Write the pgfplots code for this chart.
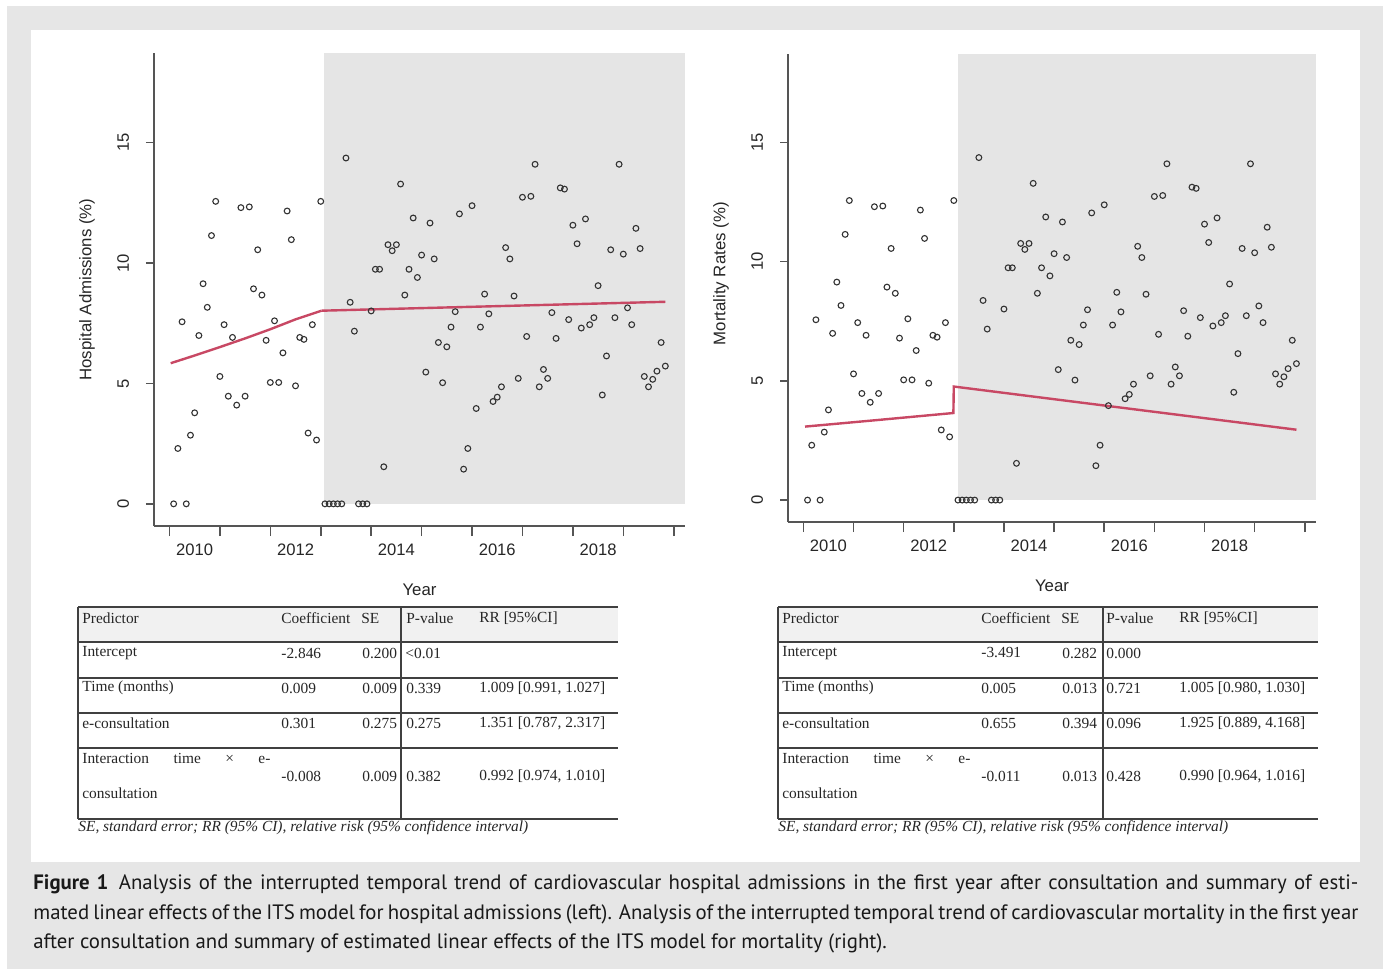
\documentclass[border=0pt]{standalone}
\usepackage{fontspec}
\setmainfont{Liberation Sans}
\newfontfamily\tabfont{Liberation Serif}
\newfontfamily\capfont{PT Sans}
\usepackage{pgfplots}
\pgfplotsset{compat=1.18}
\usepackage{pgfplotstable}

\definecolor{bgframe}{RGB}{230,230,230}
\definecolor{plotgray}{RGB}{229,229,229}
\definecolor{redline}{RGB}{200,72,100}
\definecolor{axisgray}{RGB}{85,85,85}
\definecolor{hdrgray}{RGB}{241,241,241}

\pgfplotstableread{
month value
1 0
2 2.30
3 7.56
4 0
5 2.85
6 3.78
7 6.99
8 9.14
9 8.16
10 11.14
11 12.56
12 5.29
13 7.44
14 4.47
15 6.91
16 4.10
17 12.30
18 4.47
19 12.33
20 8.93
21 10.55
22 8.67
23 6.79
24 5.04
25 7.60
26 5.04
27 6.27
28 12.16
29 10.97
30 4.90
31 6.91
32 6.83
33 2.94
34 7.44
35 2.65
36 12.56
37 0
38 0
39 0
40 0
41 0
42 14.36
43 8.37
44 7.17
45 0
46 0
47 0
48 8.01
49 9.74
50 9.74
51 1.54
52 10.76
53 10.51
54 10.76
55 13.28
56 8.67
57 9.74
58 11.87
59 9.40
60 10.33
61 5.47
62 11.66
63 10.17
64 6.70
65 5.03
66 6.52
67 7.34
68 7.98
69 12.04
70 1.44
71 2.30
72 12.38
73 3.96
74 7.34
75 8.71
76 7.89
77 4.25
78 4.43
79 4.86
80 10.64
81 10.17
82 8.63
83 5.21
84 12.73
85 6.95
86 12.77
87 14.10
88 4.86
89 5.58
90 5.21
91 7.94
92 6.87
93 13.12
94 13.07
95 7.65
96 11.57
97 10.80
98 7.30
99 11.83
100 7.44
101 7.73
102 9.06
103 4.52
104 6.14
105 10.55
106 7.73
107 14.10
108 10.37
109 8.14
110 7.44
111 11.44
112 10.60
113 5.29
114 4.86
115 5.17
116 5.51
117 6.70
118 5.72
}\rates

\newcommand{\lbfont}{\fontsize{8.4}{10}\selectfont}

\pgfplotsset{its/.style={
  scale only axis,
  xmin=-3.68, xmax=122.68, ymin=-0.92, ymax=18.72,
  axis x line*=bottom, axis y line*=left,
  axis line style={-, draw=axisgray, line width=0.8pt},
  tick align=outside,
  major tick length=4pt, minor tick length=5pt,
  tick style={draw=axisgray, line width=0.8pt},
  major x tick style={draw=none},
  xtick={6,30,54,78,102},
  xticklabels={2010,2012,2014,2016,2018},
  minor xtick={0,12,...,120},
  ytick={0,5,10,15},
  /pgf/number format/assume math mode=true,
  tick label style={font=\fontsize{8.3}{10}\selectfont, text=black!85},
  xticklabel style={anchor=center, yshift=-8pt},
  yticklabel style={xshift=-5pt, rotate=90, anchor=south},
  every axis x label/.style={at={(axis description cs:0.5,0)}, anchor=center, yshift=-32pt, font=\lbfont, text=black!85},
  every axis y label/.style={at={(axis description cs:0,0.5)}, xshift=-33.5pt, rotate=90, anchor=center, font=\lbfont, text=black!85},
  xlabel={\lbfont Year},
  clip=false,
}}

\newcommand{\tb}{\tabfont\fontsize{7.7}{9}\selectfont}

\newcommand{\tablegrid}[1]{%
  \fill[hdrgray] (78,607) rectangle (618,642);
  \foreach \yy in {607,642,678,713,748,819}
    \draw[line width=0.8pt, black!75] (78,\yy) -- (618,\yy);
  \draw[line width=0.8pt, black!75] (78,607) -- (78,819);
  \draw[line width=0.8pt, black!75] (#1,607) -- (#1,819);
  \begin{scope}[every node/.style={anchor=west, inner sep=0pt, font=\tb, text=black!85}]
  \node at (82,618) {Predictor};
  \node at (281,618) {Coefficient};
  \node at (361,618) {SE};
  \node at (406,618) {P-value};
  \node at (479,618) {RR [95\%CI]};
  \node at (82,653) {Intercept};
  \node at (82,688) {Time (months)};
  \node at (82,723) {e-consultation};
  \node at (82,758) {\hbox to 94pt{Interaction\hfill time\hfill ×\hfill e-}};
  \node at (82,793) {consultation};
  \node at (78,828) {\itshape SE, standard error; RR (95\% CI), relative risk (95\% confidence interval)};
  \end{scope}
}

\begin{document}
\begin{tikzpicture}[x=0.5pt, y=-0.5pt]
\fill[white] (0,0) rectangle (1389,975);
\fill[bgframe] (7,6) rectangle (1383,969);
\fill[white] (31,30) rectangle (1360,862);

% ---------- left plot ----------
\begin{axis}[its, at={(77pt,-263pt)}, anchor=south west,
  width=265.5pt, height=236.5pt,
  ylabel={\lbfont Hospital Admissions (\%)}]
\addplot[fill=plotgray, draw=none] coordinates {(36.8,0) (36.8,18.72) (122.68,18.72) (122.68,0)};
\addplot[only marks, mark=o, mark size=1.45pt, mark options={draw=black!80, line width=0.55pt}] table[x=month, y=value] {\rates};
\addplot[redline, line width=1.2pt] coordinates {(0.3,5.84) (6,6.16) (12,6.51) (18,6.87) (24,7.25) (30,7.66) (36.2,8.02)};
\addplot[redline, line width=1.2pt] coordinates {(36.2,8.02) (118,8.39)};
\end{axis}

% ---------- right plot ----------
\begin{axis}[its, at={(394pt,-261pt)}, anchor=south west,
  width=264pt, height=234.2pt,
  ylabel={\lbfont Mortality Rates (\%)},
  every axis y label/.append style={at={(axis description cs:0,0.53)}}]
\addplot[fill=plotgray, draw=none] coordinates {(36.9,0) (36.9,18.72) (122.68,18.72) (122.68,0)};
\addplot[only marks, mark=o, mark size=1.45pt, mark options={draw=black!80, line width=0.55pt}] table[x=month, y=value] {\rates};
\addplot[redline, line width=1.2pt] coordinates {(0.4,3.08) (18,3.36) (35.9,3.65) (36.0,4.76) (73.1,3.94) (118,2.95)};
\end{axis}

% ---------- left table ----------
\tablegrid{401}
\begin{scope}[every node/.style={anchor=west, inner sep=0pt, font=\tb, text=black!85}]
\node at (281,653) {-2.846};
\node at (362,653) {0.200};
\node at (405,653) {<0.01};
\node at (281,688) {0.009};
\node at (362,688) {0.009};
\node at (406,688) {0.339};
\node at (479,688) {1.009 [0.991, 1.027]};
\node at (281,723) {0.301};
\node at (362,723) {0.275};
\node at (406,723) {0.275};
\node at (479,723) {1.351 [0.787, 2.317]};
\node at (281,776) {-0.008};
\node at (362,776) {0.009};
\node at (406,776) {0.382};
\node at (479,776) {0.992 [0.974, 1.010]};
\end{scope}

% ---------- right table ----------
\begin{scope}[xshift=350pt]
\tablegrid{403}
\begin{scope}[every node/.style={anchor=west, inner sep=0pt, font=\tb, text=black!85}]
\node at (281,653) {-3.491};
\node at (362,653) {0.282};
\node at (406,653) {0.000};
\node at (281,688) {0.005};
\node at (362,688) {0.013};
\node at (406,688) {0.721};
\node at (479,688) {1.005 [0.980, 1.030]};
\node at (281,723) {0.655};
\node at (362,723) {0.394};
\node at (406,723) {0.096};
\node at (479,723) {1.925 [0.889, 4.168]};
\node at (281,776) {-0.011};
\node at (362,776) {0.013};
\node at (406,776) {0.428};
\node at (479,776) {0.990 [0.964, 1.016]};
\end{scope}
\end{scope}

% ---------- caption ----------
\begin{scope}[every node/.style={anchor=base west, inner sep=0pt, text=black!90, font=\capfont\fontsize{10.4}{14}\selectfont}]
\node at (33,889) {\hbox to 662.5pt{\textbf{Figure 1}\hskip0.5em Analysis of the interrupted temporal trend of cardiovascular hospital admissions in the first year after consultation and summary of esti-}};
\node at (33,919) {\hbox to 662.5pt{mated linear effects of the ITS model for hospital admissions (left). Analysis of the interrupted temporal trend of cardiovascular mortality in the first year}};
\node at (33,948) {after consultation and summary of estimated linear effects of the ITS model for mortality (right).};
\end{scope}
\end{tikzpicture}
\end{document}
